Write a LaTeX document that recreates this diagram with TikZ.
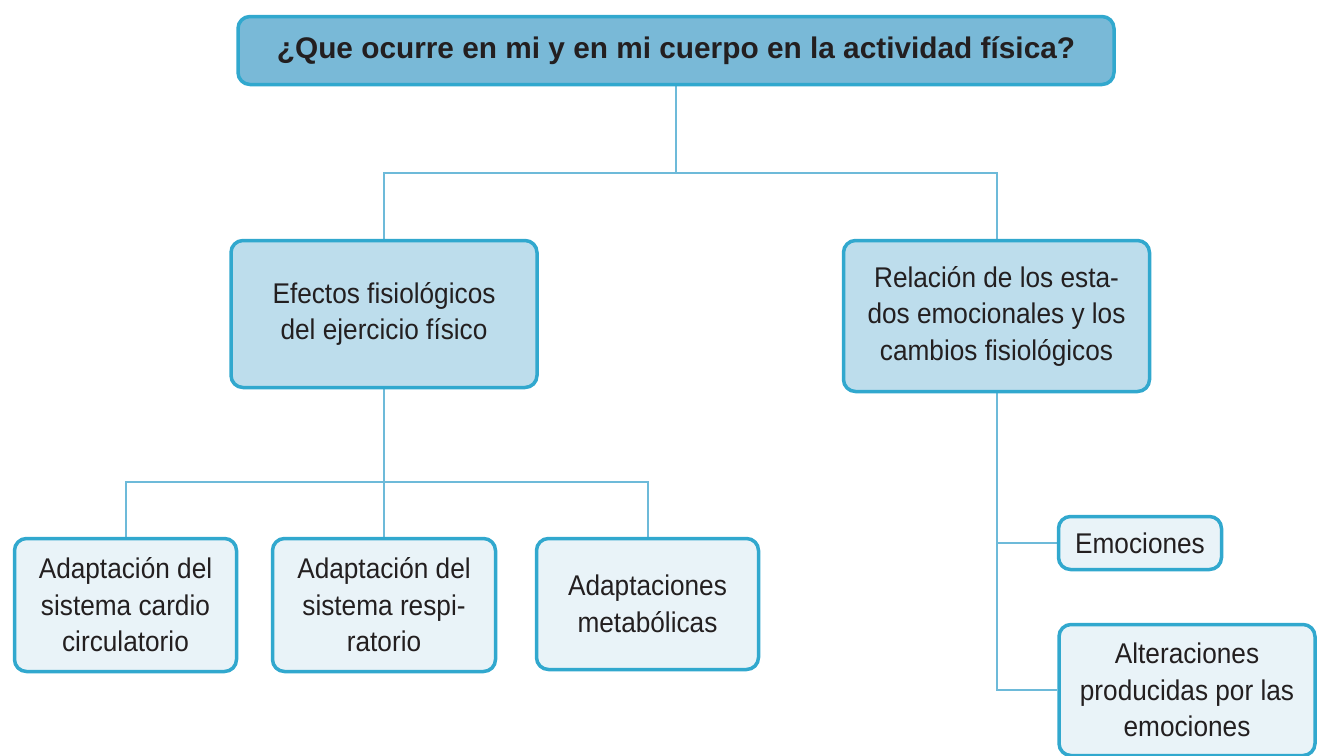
\documentclass[tikz,border=0pt]{standalone}
\usepackage{fontspec}
\usetikzlibrary{backgrounds}
\setmainfont{Liberation Sans}
\newfontfamily\condfont[FakeStretch=0.92]{Liberation Sans}
\newfontfamily\titlefont{Liberation Sans Bold}
\definecolor{bordc}{HTML}{31A8CE}
\definecolor{topfill}{HTML}{79B9D7}
\definecolor{midfill}{HTML}{BDDDEC}
\definecolor{lowfill}{HTML}{E9F3F8}
\definecolor{linec}{HTML}{6DBAD9}
\definecolor{txtc}{HTML}{231F20}
\tikzset{
  boxbase/.style={draw=bordc, line width=3.5pt, rounded corners=12pt, align=center,
    text=txtc, inner sep=0pt, anchor=center},
  topbox/.style={boxbase, fill=topfill, font=\titlefont\fontsize{29.8}{36}\selectfont},
  midbox/.style={boxbase, fill=midfill, font=\condfont\fontsize{28.5}{36.5}\selectfont},
  lowbox/.style={boxbase, fill=lowfill, font=\condfont\fontsize{28.5}{36.5}\selectfont},
  conn/.style={draw=linec, line width=2pt},
}
\begin{document}
\begin{tikzpicture}[x=1pt,y=-1pt]
\useasboundingbox (0,0) rectangle (1317,755);
\clip (0,0) rectangle (1317,755);
\coordinate (j1) at (676,173);
\coordinate (j2) at (384,482);
\node[topbox, minimum width=876pt, minimum height=68pt] (top) at (676,50.5) {¿Que ocurre en mi y en mi cuerpo en la actividad física?};
\node[midbox, minimum width=306pt, minimum height=147pt] (ml) at (384,314) {Efectos fisiológicos\\del ejercicio físico};
\node[midbox, minimum width=306pt, minimum height=151pt] (mr) at (996.5,316) {Relación de los esta-\\dos emocionales y los\\cambios fisiológicos};
\node[lowbox, minimum width=222pt, minimum height=133pt] (b1) at (125.5,605) {Adaptación del\\sistema cardio\\circulatorio};
\node[lowbox, minimum width=223pt, minimum height=133pt] (b2) at (384,605) {Adaptación del\\sistema respi-\\ratorio};
\node[lowbox, minimum width=222pt, minimum height=131pt] (b3) at (647.5,604) {Adaptaciones\\metabólicas};
\node[lowbox, minimum width=163pt, minimum height=53pt] (emo) at (1140,543) {Emociones};
\node[lowbox, minimum width=256pt, minimum height=131pt] (alt) at (1187,690) {Alteraciones\\producidas por las\\emociones};
\begin{scope}[on background layer]
\draw[conn] (top.south) -- (j1);
\draw[conn] (ml.north) |- (j1) -| (mr.north);
\draw[conn] (ml.south) -- (j2);
\draw[conn] (b1.north) |- (j2) -| (b3.north);
\draw[conn] (j2) -- (b2.north);
\draw[conn] (mr.south) |- (alt.west);
\draw[conn] (mr.south |- emo.west) -- (emo.west);
\end{scope}
\end{tikzpicture}
\end{document}
